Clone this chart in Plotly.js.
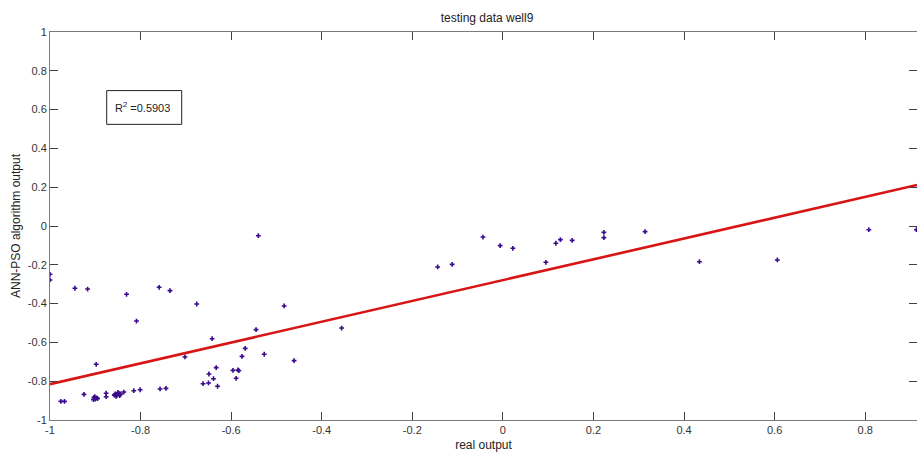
<!DOCTYPE html>
<html>
<head>
<meta charset="utf-8">
<script src="https://cdn.plot.ly/plotly-3.0.1.min.js"></script>
<style>html,body{margin:0;padding:0;background:#fff;}#chart{width:917px;height:460px;}</style>
</head>
<body>
<div id="chart"></div>
<script>
// real output (x) vs ANN-PSO algorithm output (y)
const realOut = [
  -1.000, -1.000, -0.945, -0.917, -0.831, -0.809, -0.759, -0.735, -0.676, -0.540,
  -0.642, -0.483, -0.545, -0.569, -0.527, -0.461, -0.702, -0.576, -0.898, -0.596,
  -0.585, -0.583, -0.589, -0.633, -0.649, -0.639, -0.662, -0.650, -0.630, -0.925,
  -0.976, -0.968, -0.903, -0.900, -0.897, -0.904, -0.895, -0.901, -0.876, -0.876,
  -0.856, -0.852, -0.848, -0.854, -0.846, -0.850, -0.858, -0.844, -0.837, -0.815,
  -0.801, -0.757, -0.744, -0.356, -0.144, -0.112, -0.044, -0.006, 0.022, 0.095,
  0.117, 0.127, 0.153, 0.223, 0.223, 0.314, 0.434, 0.606, 0.808, 0.913
];
const annPsoOut = [
  -0.249, -0.278, -0.321, -0.325, -0.352, -0.490, -0.316, -0.333, -0.402, -0.050,
  -0.581, -0.412, -0.534, -0.631, -0.661, -0.694, -0.675, -0.672, -0.713, -0.744,
  -0.742, -0.746, -0.785, -0.730, -0.763, -0.787, -0.813, -0.809, -0.826, -0.868,
  -0.904, -0.904, -0.884, -0.892, -0.886, -0.895, -0.890, -0.880, -0.862, -0.880,
  -0.866, -0.872, -0.862, -0.878, -0.874, -0.858, -0.872, -0.866, -0.856, -0.849,
  -0.844, -0.840, -0.837, -0.526, -0.211, -0.198, -0.057, -0.101, -0.115, -0.187,
  -0.089, -0.070, -0.074, -0.033, -0.060, -0.029, -0.184, -0.175, -0.019, -0.019
];
// fitted regression line
const fitSlope = 0.536;
const fitIntercept = -0.279;
const rSquared = "0.5903";

const xTickVals = [-1, -0.8, -0.6, -0.4, -0.2, 0, 0.2, 0.4, 0.6, 0.8];
const xTickText = ["-1", "-0.8", "-0.6", "-0.4", "-0.2", "0", "0.2", "0.4", "0.6", "0.8"];
const yTickVals = [-1, -0.8, -0.6, -0.4, -0.2, 0, 0.2, 0.4, 0.6, 0.8, 1];
const yTickText = ["-1", "-0.8", "-0.6", "-0.4", "-0.2", "0", "0.2", "0.4", "0.6", "0.8", "1"];

const xRange = [-1, 0.9144];
const yRange = [-1, 1];

const fitX = xRange.slice();
const fitY = fitX.map(v => fitSlope * v + fitIntercept);

const font = "Liberation Sans, Arial, sans-serif";

const traces = [
  {
    x: realOut, y: annPsoOut, type: "scatter", mode: "markers",
    marker: {symbol: "cross", size: 4, color: "#3a0a8c", line: {width: 0}},
    cliponaxis: true, hoverinfo: "x+y"
  },
  {
    x: fitX, y: fitY, type: "scatter", mode: "lines",
    line: {color: "#d91414", width: 2.6}, hoverinfo: "skip"
  }
];

const axisCommon = {
  showgrid: false, zeroline: false, showline: true, linecolor: "#7a7a7a", linewidth: 1,
  mirror: "ticks", ticks: "inside", ticklen: 8, tickcolor: "#404040", tickwidth: 1,
  tickfont: {family: font, size: 11, color: "#333"}, fixedrange: true
};

const layout = {
  width: 917, height: 460,
  margin: {l: 50, r: 0, t: 32, b: 40, pad: 0},
  paper_bgcolor: "#fff", plot_bgcolor: "#fff",
  showlegend: false,
  title: {text: "testing data well9", font: {family: font, size: 12, color: "#222"},
          x: 487/917, xref: "container", xanchor: "center", y: 1 - 18/460, yref: "container", yanchor: "middle"},
  xaxis: Object.assign({}, axisCommon, {
    range: xRange, tickmode: "array", tickvals: xTickVals, ticktext: xTickText,
    title: {text: "real output", font: {family: font, size: 12, color: "#222"}, standoff: 5},
    automargin: false
  }),
  yaxis: Object.assign({}, axisCommon, {
    range: yRange, tickmode: "array", tickvals: yTickVals, ticktext: yTickText,
    title: {text: "ANN-PSO algorithm output", font: {family: font, size: 12, color: "#222"}, standoff: 4},
    automargin: false
  }),
  shapes: [{
    type: "rect", xref: "paper", yref: "paper",
    x0: 0.0654, x1: 0.1519, y0: 0.762, y1: 0.849,
    line: {color: "#222", width: 1}, fillcolor: "rgba(0,0,0,0)"
  }],
  annotations: [{
    xref: "paper", yref: "paper", x: 0.073, y: 0.807, xanchor: "left", yanchor: "middle",
    text: "R<sup>2</sup> =" + rSquared, showarrow: false,
    font: {family: font, size: 11, color: "#222"}
  }]
};

Plotly.newPlot("chart", traces, layout, {displayModeBar: false, staticPlot: true});
</script>
</body>
</html>
